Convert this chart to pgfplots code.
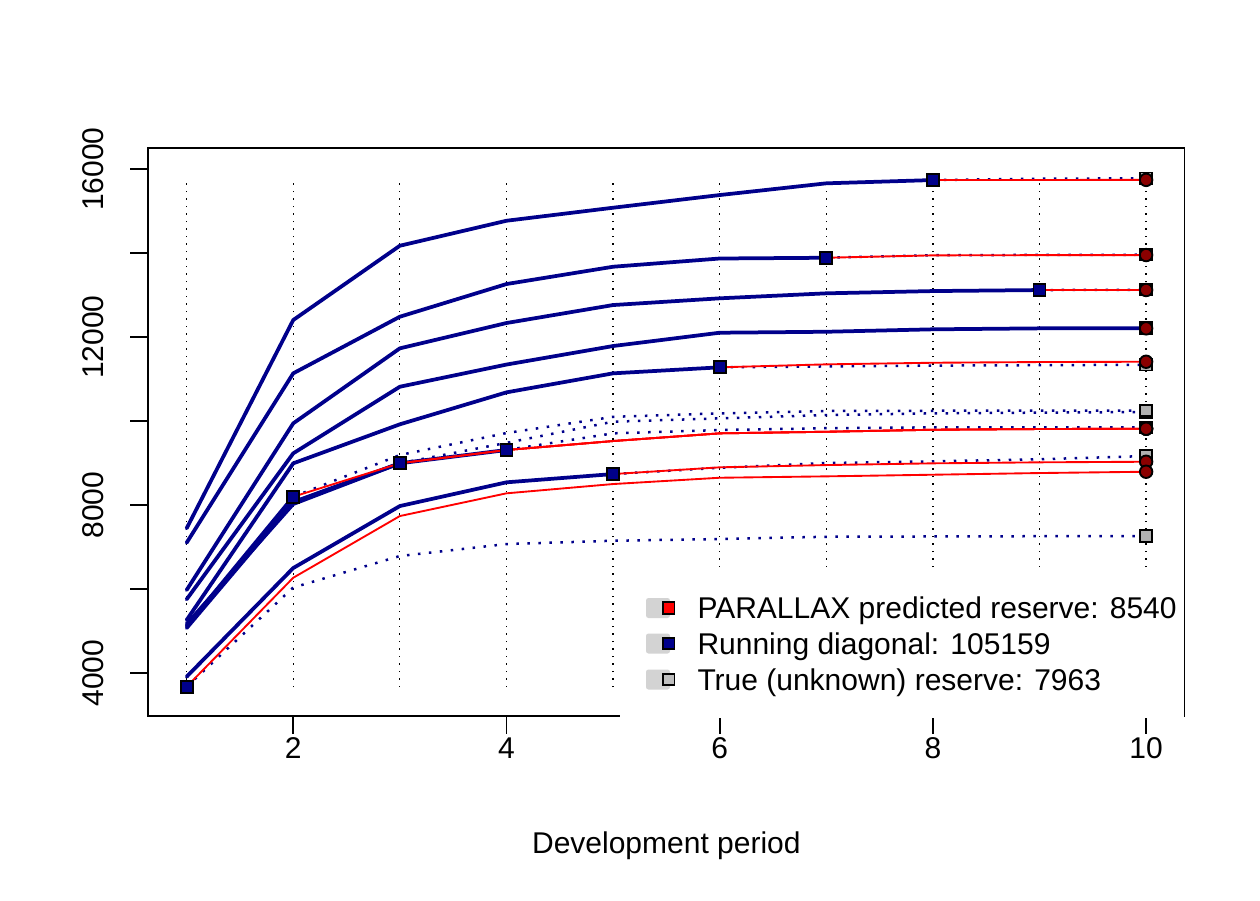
\documentclass[border=0pt]{standalone}
\usepackage{fontspec}
\setmainfont{Liberation Sans}
\usepackage{pgfplots}
\pgfplotsset{compat=1.18}
\definecolor{dkblue}{HTML}{00008B}
\definecolor{dkred}{HTML}{8B0000}
\definecolor{ltgray}{HTML}{D3D3D3}
\definecolor{mgray}{HTML}{BEBEBE}
\definecolor{dgray}{HTML}{B0B0B0}
\begin{document}
\fontsize{12}{14.4}\selectfont
\begin{tikzpicture}
\begin{axis}[
  name=ax,
  scale only axis,
  width=414.5pt, height=227.2pt,
  xmin=0.64, xmax=10.36, ymin=2983, ymax=16507,
  axis line style={line width=0.75pt},
  tick style={line width=0.75pt, black},
  tick align=outside,
  major tick length=7.2pt,
  xtick={2,4,6,8,10},
  xticklabels={2,4,6,8,10},
  ytick={4000,6000,8000,10000,12000,14000,16000},
  yticklabels={4000,,8000,,12000,,16000},
  scaled y ticks=false,
  scaled x ticks=false,
  xtick pos=lower, ytick pos=left,
  xticklabel style={anchor=base},
  yticklabel style={rotate=90, anchor=base},
  xticklabel shift=9.8pt,
  yticklabel shift=10.8pt,
  xlabel={Development period},
  xlabel style={at={(rel axis cs:0.5,0)}, anchor=base, yshift=-55pt},
  clip=false,
  /pgf/number format/assume math mode=true,
  obs/.style={dkblue, line width=1.5pt, line join=round, line cap=round, mark=none},
  pred/.style={red, line width=0.75pt, line join=round, mark=none},
  tru/.style={dkblue, line width=1pt, dash pattern=on 1pt off 3.4pt, mark=none},
]
% vertical dotted guides
\pgfplotsinvokeforeach{1,...,10}{
  \addplot[black, line width=0.5pt, dash pattern=on 0.6pt off 2.4pt, forget plot] coordinates {(#1,3667) (#1,15660)};
}
% observed triangle
\addplot[obs] coordinates {(1,5755)(2,9231)(3,10817)(4,11345)(5,11786)(6,12103)(7,12126)(8,12184)(9,12207)(10,12207)};
\addplot[obs] coordinates {(1,5976)(2,9945)(3,11731)(4,12334)(5,12762)(6,12922)(7,13041)(8,13095)(9,13119)};
\addplot[obs] coordinates {(1,7445)(2,12405)(3,14174)(4,14769)(5,15079)(6,15381)(7,15660)(8,15738)};
\addplot[obs] coordinates {(1,7102)(2,11136)(3,12484)(4,13262)(5,13674)(6,13870)(7,13888)};
\addplot[obs] coordinates {(1,5262)(2,8993)(3,9922)(4,10683)(5,11136)(6,11279)};
\addplot[obs] coordinates {(1,3912)(2,6500)(3,7976)(4,8541)(5,8738)};
\addplot[obs] coordinates {(1,5167)(2,8024)(3,8995)(4,9310)};
\addplot[obs] coordinates {(1,5071)(2,8072)(3,8995)};
\addplot[obs] coordinates {(1,5119)(2,8198)};
% true (unknown) development
\addplot[tru] coordinates {(9,13119)(10,13125)};
\addplot[tru] coordinates {(8,15738)(9,15770)(10,15780)};
\addplot[tru] coordinates {(7,13888)(8,13950)(9,13955)(10,13960)};
\addplot[tru] coordinates {(6,11279)(7,11300)(8,11320)(9,11330)(10,11340)};
\addplot[tru] coordinates {(5,8738)(6,8888)(7,9000)(8,9040)(9,9090)(10,9167)};
\addplot[tru] coordinates {(4,9310)(5,9707)(6,9786)(7,9830)(8,9850)(9,9850)(10,9850)};
\addplot[tru] coordinates {(3,8995)(4,9480)(5,9984)(6,10064)(7,10143)(8,10183)(9,10200)(10,10215)};
\addplot[tru] coordinates {(2,8198)(3,9191)(4,9714)(5,10100)(6,10183)(7,10240)(8,10245)(9,10248)(10,10250)};
\addplot[tru] coordinates {(1,3674)(2,6036)(3,6786)(4,7071)(5,7150)(6,7191)(7,7245)(8,7252)(9,7258)(10,7262)};
% PARALLAX predictions
\addplot[pred] coordinates {(9,13119)(10,13120)};
\addplot[pred] coordinates {(8,15738)(9,15740)(10,15742)};
\addplot[pred] coordinates {(7,13888)(8,13945)(9,13950)(10,13952)};
\addplot[pred] coordinates {(6,11279)(7,11350)(8,11388)(9,11405)(10,11412)};
\addplot[pred] coordinates {(5,8738)(6,8898)(7,8952)(8,8993)(9,9017)(10,9031)};
\addplot[pred] coordinates {(4,9310)(5,9524)(6,9707)(7,9745)(8,9793)(9,9810)(10,9817)};
\addplot[pred] coordinates {(3,8995)(4,9310)(5,9524)(6,9707)(7,9745)(8,9793)(9,9810)(10,9817)};
\addplot[pred] coordinates {(2,8198)(3,8995)(4,9310)(5,9524)(6,9707)(7,9745)(8,9793)(9,9810)(10,9817)};
\addplot[pred] coordinates {(1,3674)(2,6269)(3,7738)(4,8279)(5,8500)(6,8650)(7,8683)(8,8722)(9,8762)(10,8793)};
% true ultimate (grey squares)
\addplot[only marks, mark=square*, mark size=2.3pt, mark options={fill=dgray, draw=black, line width=0.75pt}]
  coordinates {(10,13125)(10,15780)(10,13960)(10,11340)(10,9167)(10,9850)(10,10215)(10,10250)(10,7262)};
% running diagonal
\addplot[only marks, mark=square*, mark size=2.4pt, mark options={fill=dkblue, draw=black, line width=0.75pt}]
  coordinates {(1,3674)(2,8198)(3,8995)(4,9310)(5,8738)(6,11279)(7,13888)(8,15738)(9,13119)(10,12207)};
% predicted ultimate (circles)
\addplot[only marks, mark=*, mark size=2.5pt, mark options={fill=dkred, draw=black, line width=0.75pt}]
  coordinates {(10,12207)(10,13120)(10,15742)(10,13952)(10,11412)(10,9031)(10,9817)(10,9817)(10,9817)(10,8793)};
\end{axis}
% legend
\begin{scope}[shift={(ax.south west)}]
  \fill[white] (188.7pt,-0.9pt) rectangle (414.15pt,58.3pt);
  \fill[ltgray, rounded corners=1pt] (199.1pt,39.1pt) rectangle (208.7pt,47.1pt);
  \fill[ltgray, rounded corners=1pt] (199.1pt,24.9pt) rectangle (208.7pt,32.9pt);
  \fill[ltgray, rounded corners=1pt] (199.1pt,10.5pt) rectangle (208.7pt,18.5pt);
  \draw[black, line width=0.75pt, fill=red] (205.9pt,40.8pt) rectangle (210.5pt,45.4pt);
  \draw[black, line width=0.75pt, fill=dkblue] (205.9pt,26.6pt) rectangle (210.5pt,31.2pt);
  \draw[black, line width=0.75pt, fill=mgray] (205.9pt,12.2pt) rectangle (210.5pt,16.8pt);
  \node[anchor=base west, inner sep=0pt] at (219.5pt,38.8pt) {PARALLAX predicted reserve: 8540};
  \node[anchor=base west, inner sep=0pt] at (219.5pt,24.6pt) {Running diagonal: 105159};
  \node[anchor=base west, inner sep=0pt] at (219.5pt,10.2pt) {True (unknown) reserve: 7963};
\end{scope}
\path ([shift={(-59.3pt,-73.7pt)}]ax.south west) rectangle +(504pt,360pt);
\end{tikzpicture}
\end{document}
